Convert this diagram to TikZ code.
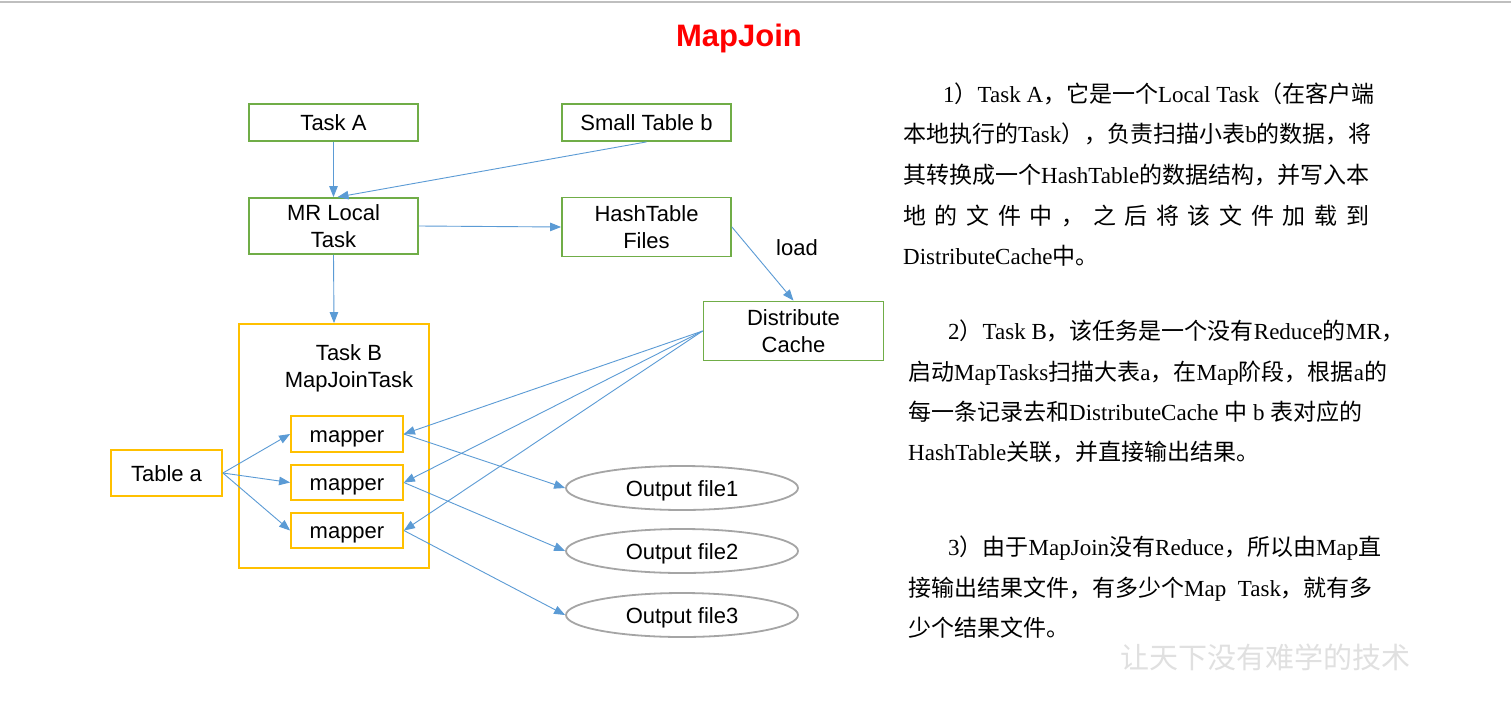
\documentclass[tikz,border=0pt]{standalone}
\usepackage{fontspec}
\setmainfont{Liberation Sans}
\newfontfamily\cjk{Noto Sans CJK SC}
\newfontfamily\tnr{Liberation Serif}
\usetikzlibrary{arrows.meta,shapes.geometric}
\definecolor{gbox}{HTML}{70AD47}
\definecolor{ybox}{HTML}{FFC000}
\definecolor{arr}{HTML}{5B9BD5}
\definecolor{ell}{HTML}{A5A5A5}
\newcommand\zh[1]{{\cjk #1}}
\begin{document}
\begin{tikzpicture}[x=1pt,y=-1pt,
  font=\fontsize{22}{27}\selectfont,
  one/.style={text height=16pt, text depth=0pt},
  gb/.style={draw=gbox, line width=1.8pt, inner sep=0pt, align=center},
  yb/.style={draw=ybox, line width=1.8pt, inner sep=0pt, align=center},
  el/.style={ellipse, draw=ell, line width=1.8pt, minimum width=232pt, minimum height=44pt, inner sep=0pt, one},
  ar/.style={draw=arr, line width=0.9pt, -{Triangle[length=11pt,width=8.5pt]}},
  tx/.style={anchor=base west, inner sep=0pt, font=\tnr\fontsize{23}{27}\selectfont}]
\useasboundingbox (0,0) rectangle (1511,704);
\fill[white] (0,0) rectangle (1511,704);
\draw[black!25, line width=2pt] (0,2) -- (1511,2);
\node[font=\bfseries\fontsize{31}{31}\selectfont, text=red] (title) at (739,38) {MapJoin};

% boxes
\node[gb, one, minimum width=169pt, minimum height=37pt] (ta) at (333.5,122.5) {Task A};
\node[gb, one, minimum width=169pt, minimum height=37pt] (stb) at (646.5,122.5) {Small Table b};
\node[gb, minimum width=169pt, minimum height=56pt] (mr) at (333.5,226) {MR Local\\Task};
\node[gb, minimum width=169pt, minimum height=59pt] (ht) at (646.5,227) {HashTable\\Files};
\node[gb, minimum width=180pt, minimum height=59pt] (dc) at (793.5,331) {Distribute\\Cache};
\node[one] (load) at (797,247) {load};

\node[yb, minimum width=190pt, minimum height=244pt] (tb) at (334,446) {};
\node[align=center] (tbl) at (349,368) {Task B\\MapJoinTask};
\node[yb, one, minimum width=112pt, minimum height=36pt] (m1) at (347,434) {mapper};
\node[yb, one, minimum width=112pt, minimum height=35pt] (m2) at (347,482.5) {mapper};
\node[yb, one, minimum width=112pt, minimum height=35pt] (m3) at (347,530.5) {mapper};
\node[yb, one, minimum width=111pt, minimum height=46pt] (tablea) at (166.5,473) {Table a};

\node[el] (o1) at (682,488) {Output file1};
\node[el] (o2) at (682,551) {Output file2};
\node[el] (o3) at (682,615) {Output file3};

% connectors
\draw[ar] (ta.south) -- (mr.north);
\draw[ar] (stb.south) -- ([xshift=4pt]mr.north);
\draw[ar] (mr.east) -- (ht.west);
\draw[ar] (mr.south) -- (tb.north);
\draw[ar] (ht.east) -- (dc.north);
\foreach \m in {m1,m2,m3} {
  \draw[ar] (dc.west) -- (\m.east);
  \draw[ar] (tablea.east) -- (\m.west);
}
\draw[ar] (m1.east) -- (o1.west);
\draw[ar] (m2.east) -- (o2.west);
\draw[ar] (m3.east) -- (o3.west);

% right text
\node[tx] (p1a) at (943,102) {1\zh{）}Task A\zh{，它是一个}Local Task\zh{（在客户端}};
\node[tx] (p1b) at (903,142) {\zh{本地执行的}Task\zh{），负责扫描小表}b\zh{的数据，将}};
\node[tx] (p1c) at (903,183) {\zh{其转换成一个}HashTable\zh{的数据结构，并写入本}};
\node[tx] (p1d) at (903,224) {\cjk\makebox[466pt][s]{地 的 文 件 中 ， 之 后 将 该 文 件 加 载 到}};
\node[tx] (p1e) at (903,264) {DistributeCache\zh{中。}};

\node[tx] (p2a) at (948,339) {2\zh{）}Task B\zh{，该任务是一个没有}Reduce\zh{的}MR\zh{，}};
\node[tx] (p2b) at (908,380) {\zh{启动}MapTasks\zh{扫描大表}a\zh{，在}Map\zh{阶段，根据}a\zh{的}};
\node[tx] (p2c) at (908,420) {\zh{每一条记录去和}DistributeCache\ \zh{中}\ b\ \zh{表对应的}};
\node[tx] (p2d) at (908,460) {HashTable\zh{关联，并直接输出结果。}};

\node[tx] (p3a) at (948,555) {3\zh{）由于}MapJoin\zh{没有}Reduce\zh{，所以由}Map\zh{直}};
\node[tx] (p3b) at (908,596) {\zh{接输出结果文件，有多少个}Map\ \ Task\zh{，就有多}};
\node[tx] (p3c) at (908,636) {\zh{少个结果文件。}};

\node[font=\cjk\fontsize{29}{29}\selectfont, text=black!12] (wm) at (1265,657) {让天下没有难学的技术};
\end{tikzpicture}
\end{document}
